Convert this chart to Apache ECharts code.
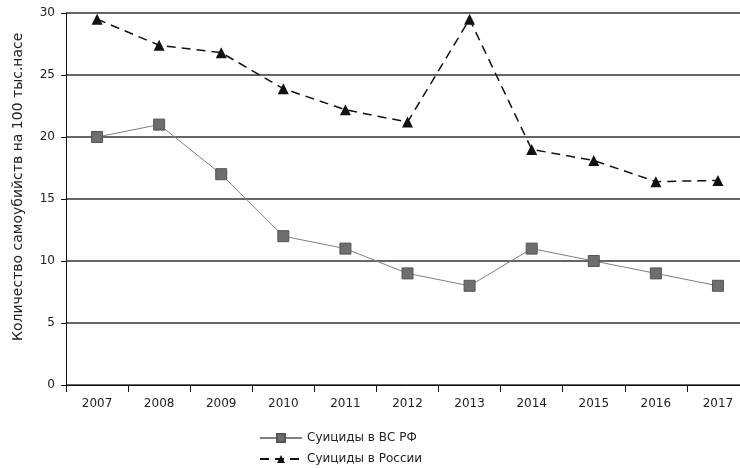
<!DOCTYPE html>
<html><head><meta charset="utf-8">
<script src="https://cdn.jsdelivr.net/npm/echarts@6/dist/echarts.min.js"></script>
<style>html,body{margin:0;padding:0;background:#fff;overflow:hidden;width:740px;height:468px}#c{width:760px;height:468px}</style>
</head><body><div id="c"></div>
<script>
var years = ['2007','2008','2009','2010','2011','2012','2013','2014','2015','2016','2017'];
var armyValues = [20, 21, 17, 12, 11, 9, 8, 11, 10, 9, 8];
var russiaValues = [29.5, 27.4, 26.8, 23.9, 22.2, 21.2, 29.5, 19, 18.1, 16.4, 16.5];
var seriesNames = ['Суициды в ВС РФ', 'Суициды в России'];
var yTitle = 'Количество самоубийств на 100 тыс.насе';

var font = 'DejaVu Sans, Liberation Sans, Arial, sans-serif';
var chart = echarts.init(document.getElementById('c'), null, {renderer:'canvas'});
chart.setOption({
  animation:false,
  backgroundColor:'#fff',
  textStyle:{fontFamily:'Liberation Sans, Arial, sans-serif'},
  grid:{left:66, width:683, top:13, height:372, containLabel:false},
  xAxis:{
    type:'category', data:years, boundaryGap:true,
    axisLine:{lineStyle:{color:'#111', width:1}},
    axisTick:{show:true, inside:false, length:7, lineStyle:{color:'#111'}},
    axisLabel:{color:'#222', fontSize:12, margin:13, fontFamily:font}
  },
  yAxis:{
    type:'value', min:0, max:30, interval:5,
    axisLine:{show:true, lineStyle:{color:'#111', width:1}},
    axisTick:{show:true, length:5, lineStyle:{color:'#111'}},
    axisLabel:{color:'#222', fontSize:12, margin:11, fontFamily:font},
    splitLine:{lineStyle:{color:'#333', width:1.5}}
  },
  legend:[{
    orient:'horizontal', left:254, top:427, itemWidth:42, itemHeight:10, itemGap:4,
    textStyle:{color:'#222', fontSize:12, fontFamily:font},
    data:[seriesNames[0]]
  },{
    orient:'horizontal', left:254, top:448, itemWidth:42, itemHeight:10, itemGap:4,
    textStyle:{color:'#222', fontSize:12, fontFamily:font},
    data:[seriesNames[1]]
  }],
  graphic:[{
    type:'text', rotation:Math.PI/2,
    x:11, y:341,
    style:{text:yTitle, fill:'#222', font:'14px ' + font}
  }],
  series:[
    {name:seriesNames[0], type:'line', data:armyValues,
     symbol:'rect', symbolSize:11,
     lineStyle:{color:'#808080', width:1},
     itemStyle:{color:'#6e6e6e', borderColor:'#555', borderWidth:1}},
    {name:seriesNames[1], type:'line', data:russiaValues,
     symbol:'triangle', symbolSize:11,
     lineStyle:{color:'#111', width:1.5, type:[9,6]},
     itemStyle:{color:'#111'}}
  ]
});
</script></body></html>
